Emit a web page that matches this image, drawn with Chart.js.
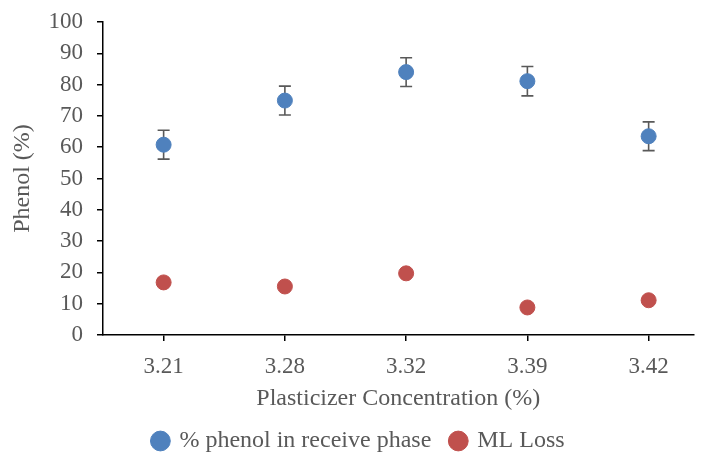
<!DOCTYPE html>
<html>
<head>
<meta charset="utf-8">
<script src="https://cdn.jsdelivr.net/npm/chart.js@4.4.1/dist/chart.umd.min.js"></script>
<style>
  html, body { margin: 0; padding: 0; background: #fff; }
  #wrap { width: 702px; height: 453px; }
</style>
</head>
<body>
<div id="wrap"><canvas id="chart" width="702" height="453"></canvas></div>
<script>
const categories = ['3.21', '3.28', '3.32', '3.39', '3.42'];
const phenolReceive = [60.8, 74.9, 84.0, 81.1, 63.5];
const phenolReceiveErr = [4.6, 4.6, 4.6, 4.7, 4.6];
const mlLoss = [16.8, 15.5, 19.7, 8.8, 11.1];
const mlLossErr = [1.1, 1.1, 1.1, 1.1, 1.1];
const yTicks = [0, 10, 20, 30, 40, 50, 60, 70, 80, 90, 100];

const FONT = 'Liberation Serif, Times New Roman, serif';
const TEXT = '#595959';

const toPoints = (vals) => vals.map((v, i) => ({ x: i, y: v }));

// draws vertical error bars with caps behind the markers
const errorBars = {
  id: 'errorBars',
  beforeDatasetsDraw(chart) {
    const ctx = chart.ctx;
    const xs = chart.scales.x, ys = chart.scales.y;
    chart.data.datasets.forEach((ds) => {
      if (!ds.errors) return;
      ctx.save();
      ctx.strokeStyle = '#595959';
      ctx.lineWidth = 1.6;
      ds.data.forEach((p, j) => {
        const px = xs.getPixelForValue(p.x);
        const top = ys.getPixelForValue(p.y + ds.errors[j]);
        const bot = ys.getPixelForValue(p.y - ds.errors[j]);
        ctx.beginPath();
        ctx.moveTo(px, top); ctx.lineTo(px, bot);
        ctx.moveTo(px - 6, top); ctx.lineTo(px + 6, top);
        ctx.moveTo(px - 6, bot); ctx.lineTo(px + 6, bot);
        ctx.stroke();
      });
      ctx.restore();
    });
  }
};

new Chart(document.getElementById('chart'), {
  type: 'scatter',
  data: {
    datasets: [
      {
        label: '% phenol in receive phase',
        data: toPoints(phenolReceive),
        errors: phenolReceiveErr,
        backgroundColor: '#4F81BD',
        borderColor: '#4F81BD',
        pointRadius: 7.5,
        pointHoverRadius: 7.5
      },
      {
        label: 'ML Loss',
        data: toPoints(mlLoss),
        errors: mlLossErr,
        backgroundColor: '#C0504D',
        borderColor: '#C0504D',
        pointRadius: 7.5,
        pointHoverRadius: 7.5
      }
    ]
  },
  options: {
    responsive: false,
    animation: false,
    layout: { padding: { top: 22, right: -8, left: 8, bottom: -10 } },
    plugins: {
      tooltip: { enabled: false },
      legend: {
        position: 'bottom',
        labels: {
          usePointStyle: true,
          pointStyle: 'circle',
          boxWidth: 14,
          boxHeight: 14,
          padding: 20,
          color: TEXT,
          font: { family: FONT, size: 24 }
        }
      }
    },
    scales: {
      x: {
        type: 'linear',
        min: -0.5,
        max: 4.37,
        afterBuildTicks: (scale) => { scale.ticks = categories.map((c, i) => ({ value: i })); },
        afterFit: (scale) => {
          scale.height = 74;
          scale.paddingLeft = 0;
          scale.paddingRight = 0;
        },
        ticks: {
          color: TEXT,
          font: { family: FONT, size: 23 },
          padding: 12,
          autoSkip: false,
          maxRotation: 0,
          callback: (v) => categories[v]
        },
        grid: { drawOnChartArea: false, drawTicks: true, tickLength: 6, color: '#000', lineWidth: 1.5 },
        border: { display: true, color: '#000', width: 1.5 },
        title: {
          display: true,
          text: 'Plasticizer Concentration (%)',
          color: TEXT,
          font: { family: FONT, size: 24 },
          padding: { top: 4, bottom: -4 }
        }
      },
      y: {
        min: 0,
        max: 100,
        afterBuildTicks: (scale) => { scale.ticks = yTicks.map((v) => ({ value: v })); },
        afterFit: (scale) => {
          scale.width = 95;
          scale.paddingTop = 0;
          scale.paddingBottom = 0;
        },
        ticks: {
          color: TEXT,
          font: { family: FONT, size: 23 },
          padding: 14,
          autoSkip: false
        },
        grid: { drawOnChartArea: false, drawTicks: true, tickLength: 6, color: '#000', lineWidth: 1.5 },
        border: { display: true, color: '#000', width: 1.5 },
        title: {
          display: true,
          text: 'Phenol (%)',
          color: TEXT,
          font: { family: FONT, size: 24 },
          padding: { top: 0, bottom: 11 }
        }
      }
    }
  },
  plugins: [errorBars]
});
</script>
</body>
</html>
